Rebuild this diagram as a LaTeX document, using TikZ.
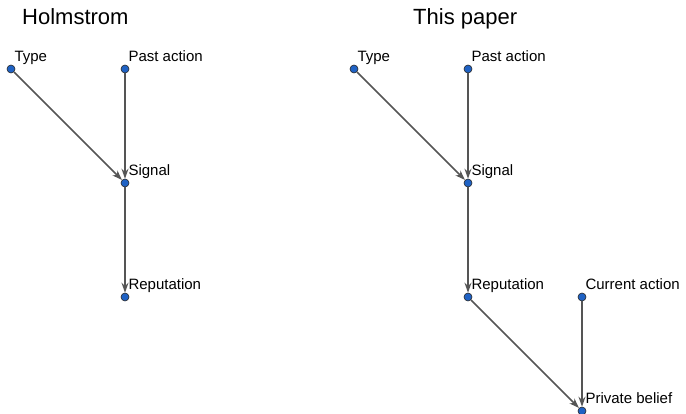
\documentclass[tikz,border=0pt]{standalone}
\usepackage{fontspec}
\setmainfont{Liberation Sans}
\usetikzlibrary{positioning,arrows.meta}

\definecolor{dotblue}{HTML}{1F62C4}
\definecolor{edgegray}{HTML}{555555}

\tikzset{
  dot/.style={circle,draw=black!85,fill=dotblue,line width=0.6pt,
    inner sep=0pt,minimum size=8pt},
  lbl/.style={inner sep=0pt,anchor=base west,xshift=0.3pt,yshift=4.3pt,
    font=\fontsize{15}{18}\selectfont},
  title/.style={inner sep=0pt,anchor=base west,font=\fontsize{22}{26}\selectfont},
  link/.style={draw=edgegray,line width=1.7pt,
    -{Stealth[length=10pt,width=7pt]}}
}

\begin{document}
\begin{tikzpicture}[x=1pt,y=-1pt,node distance=114pt,on grid]
    \useasboundingbox (0,0) rectangle (686,414);

    % Holmstrom
    \node[title] (h_title) at (22,25) {Holmstrom};
    \node[dot,label={[lbl]north east:Type}]        (h_type)             at (11,69) {};
    \node[dot,label={[lbl]north east:Past action}] (h_past) [right=of h_type] {};
    \node[dot,label={[lbl]north east:Signal}]      (h_sig)  [below=of h_past] {};
    \node[dot,label={[lbl]north east:Reputation}]  (h_rep)  [below=of h_sig]  {};
    \path[link] (h_type) edge (h_sig)
                (h_past) edge (h_sig)
                (h_sig)  edge (h_rep);

    % This paper
    \node[title] (p_title) at (413,25) {This paper};
    \node[dot,label={[lbl]north east:Type}]           (p_type)             at (354,69) {};
    \node[dot,label={[lbl]north east:Past action}]    (p_past) [right=of p_type] {};
    \node[dot,label={[lbl]north east:Signal}]         (p_sig)  [below=of p_past] {};
    \node[dot,label={[lbl]north east:Reputation}]     (p_rep)  [below=of p_sig]  {};
    \node[dot,label={[lbl]north east:Current action}] (p_cur)  [right=of p_rep]  {};
    \node[dot,label={[lbl]north east:Private belief}] (p_bel)  [below=of p_cur]  {};
    \path[link] (p_type) edge (p_sig)
                (p_past) edge (p_sig)
                (p_sig)  edge (p_rep)
                (p_rep)  edge (p_bel)
                (p_cur)  edge (p_bel);
\end{tikzpicture}
\end{document}
